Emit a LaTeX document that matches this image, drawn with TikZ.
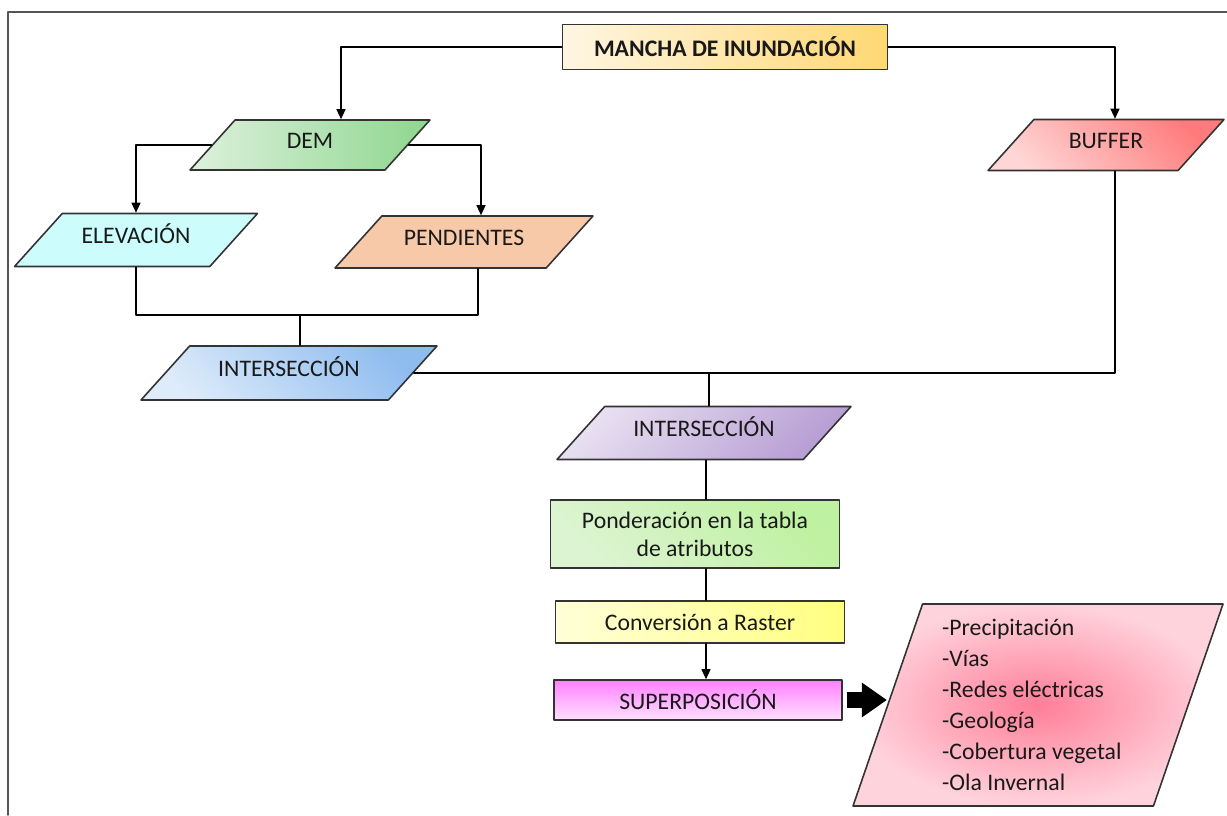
\documentclass[tikz,border=0pt]{standalone}
\usepackage{fontspec}
\setmainfont{Carlito}
\usetikzlibrary{shapes.geometric,arrows.meta}

\definecolor{borde}{HTML}{333333}
\definecolor{marco}{HTML}{555555}
\definecolor{manchaA}{HTML}{FFF6E3}
\definecolor{manchaB}{HTML}{FFD874}
\definecolor{demA}{HTML}{DDF1DD}
\definecolor{demB}{HTML}{8ED68E}
\definecolor{elevC}{HTML}{CCFCFC}
\definecolor{pendC}{HTML}{F7C9A9}
\definecolor{bufA}{HTML}{FFD6D6}
\definecolor{bufB}{HTML}{FF7A7A}
\definecolor{intA}{HTML}{DDEBFA}
\definecolor{intB}{HTML}{8EBCEF}
\definecolor{morA}{HTML}{E8E0F1}
\definecolor{morB}{HTML}{B79ED4}
\definecolor{pondA}{HTML}{DDF4D2}
\definecolor{pondB}{HTML}{BEF1A0}
\definecolor{rasA}{HTML}{FFFFD8}
\definecolor{rasB}{HTML}{FFFF80}
\definecolor{supA}{HTML}{FF80FF}
\definecolor{supB}{HTML}{FFE0FF}
\definecolor{listA}{HTML}{FF7E98}
\definecolor{listB}{HTML}{FFD3DC}

\begin{document}
\begin{tikzpicture}[
  x=0.2mm, y=-0.2mm,
  line cap=round,
  line join=round,
  every node/.style={font=\fontsize{13.5}{16}\selectfont, text=black!90},
  caja/.style={rectangle, draw=borde, line width=0.9pt, inner sep=0pt},
  para/.style={trapezium, trapezium stretches body=true,
    trapezium left angle=#1, trapezium right angle=180-#1,
    draw=borde, line width=0.9pt, inner sep=0pt},
  para/.default=48,
  alto/.style={text height=0.5*#1+0.7mm, text depth=0.5*#1-0.7mm},
  linea/.style={line width=0.7pt},
  flecha/.style={line width=0.7pt, -{Triangle[length=2mm,width=1.8mm]}},
  gruesa/.style={line width=3.2mm, line cap=butt, -{Triangle[length=5mm,width=6.6mm]}}
]
  \useasboundingbox (0,0) rectangle (1227,815);

  % Marco
  \draw[marco, line width=1pt] (8,815) -- (8,12) -- (1227,12);

  % Nodo principal
  \node[caja, minimum width=65mm, minimum height=9mm,
    left color=manchaA, right color=manchaB,
    font=\fontsize{13.5}{16}\selectfont\bfseries] (mancha) at (725,47) {MANCHA DE INUNDACIÓN};

  % Primer nivel
  \node[para, alto=10mm, minimum width=48mm,
    left color=demA, right color=demB] (dem) at (310,145) {DEM};
  \node[para, alto=10.2mm, minimum width=47.2mm,
    top color=bufB, bottom color=bufA, shading angle=-45] (buffer) at (1106,145) {BUFFER};

  % Segundo nivel
  \node[para, alto=10.6mm, minimum width=48.6mm,
    fill=elevC] (elev) at (136,240) {ELEVACIÓN};
  \node[para, alto=10.4mm, minimum width=51.6mm,
    fill=pendC] (pend) at (464,242) {PENDIENTES};

  % Intersecciones
  \node[para, alto=10.8mm, minimum width=59.2mm,
    top color=intB, bottom color=intA, shading angle=-45] (inter1) at (289,373) {INTERSECCIÓN};
  \node[para, alto=10.6mm, minimum width=58.8mm,
    top color=morA, bottom color=morB, shading angle=45] (inter2) at (704,433) {INTERSECCIÓN};

  % Cajas de proceso
  \node[caja, minimum width=57.8mm, minimum height=13.6mm, align=center,
    top color=pondB, bottom color=pondA, shading angle=-45] (pond) at (695,534)
    {Ponderación en la tabla\\de atributos};
  \node[caja, minimum width=57.8mm, minimum height=8.4mm,
    left color=rasA, right color=rasB] (raster) at (700,622) {Conversión a Raster};
  \node[caja, minimum width=57.6mm, minimum height=8mm,
    top color=supA, bottom color=supB] (super) at (698,700) {SUPERPOSICIÓN};

  % Variables
  \node[para=71, inner xsep=2pt, text height=20.2mm, text depth=20.2mm, minimum width=74mm,
    inner color=listA, outer color=listB] (lista) at (1038,705) {};
  \node[align=left, anchor=west, font=\fontsize{13.5}{17.6}\selectfont] (listatxt) at (936,705)
    {-Precipitación\\-Vías\\-Redes eléctricas\\-Geología\\-Cobertura vegetal\\-Ola Invernal};

  % Conectores
  \coordinate (union1) at (300,315);
  \coordinate (union2) at (709,373);
  \coordinate (eje) at (706,0);

  \draw[flecha] (mancha.west) -| ([xshift=6.2mm]dem.north);
  \draw[flecha] (mancha.east) -| ([xshift=1.8mm]buffer.north);
  \draw[flecha] (dem.west) -| (elev.north);
  \draw[flecha] (dem.east) -| ([xshift=3.4mm]pend.south |- pend.north);

  \draw[linea] (elev.south) |- (union1);
  \draw[linea] ([xshift=2.8mm]pend.south) |- (union1);
  \draw[linea] (union1) -- (union1 |- inter1.north);

  \draw[linea] (inter1.east) -| ([xshift=1.8mm]buffer.south);
  \draw[linea] (union2) -- (union2 |- inter2.north);

  \draw[linea] (inter2.south -| eje) -- (pond.north -| eje);
  \draw[linea] (pond.south -| eje) -- (raster.north -| eje);
  \draw[flecha] (raster.south -| eje) -- (super.north -| eje);

  \draw[gruesa] ([xshift=0.8mm]super.east) -- (super.east -| lista.west);
\end{tikzpicture}
\end{document}
